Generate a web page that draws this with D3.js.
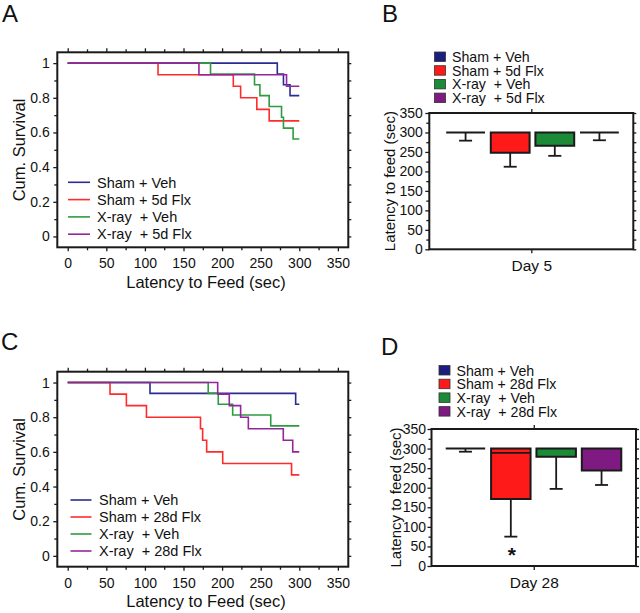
<!DOCTYPE html>
<html><head><meta charset="utf-8">
<script src="https://cdn.jsdelivr.net/npm/d3@7"></script>
<style>
body{margin:0;background:#fff;}
svg{display:block;font-family:"Liberation Sans",Arial,sans-serif;}
text{white-space:pre;}
</style></head><body>
<svg id="c" width="640" height="613"></svg>
<script>
// ---------- DATA ----------
const kmGroupsA = ["Sham + Veh", "Sham + 5d Flx", "X-ray  + Veh", "X-ray  + 5d Flx"];
const kmGroupsC = ["Sham + Veh", "Sham + 28d Flx", "X-ray  + Veh", "X-ray  + 28d Flx"];
const kmXTicks = [0, 50, 100, 150, 200, 250, 300, 350];
const kmYTicks = [0, 0.2, 0.4, 0.6, 0.8, 1];

// Panel A (Kaplan-Meier, step times in sec / cumulative survival)
const A_shamVeh_t = [0, 271.5, 279.5, 288, 300];
const A_shamVeh_s = [1, 0.9375, 0.875, 0.8125, 0.8125];
const A_shamFlx_t = [0, 117, 214.5, 224, 245, 261, 300];
const A_shamFlx_s = [1, 0.933, 0.867, 0.8, 0.733, 0.667, 0.667];
const A_xrayVeh_t = [0, 185, 242, 249, 261, 277, 279.5, 292, 300];
const A_xrayVeh_s = [1, 0.9375, 0.875, 0.8125, 0.75, 0.6875, 0.625, 0.5625, 0.5625];
const A_xrayFlx_t = [0, 170, 283.5, 300];
const A_xrayFlx_s = [1, 0.933, 0.867, 0.867];

// Panel C
const C_shamVeh_t = [0, 106.6, 295.3, 300];
const C_shamVeh_s = [1, 0.9375, 0.875, 0.875];
const C_shamFlx_t = [0, 54.8, 76, 102, 172, 174.8, 180, 200.8, 290, 300];
const C_shamFlx_s = [1, 0.933, 0.867, 0.8, 0.733, 0.667, 0.6, 0.533, 0.467, 0.467];
const C_xrayVeh_t = [0, 182, 195, 213.7, 263, 300];
const C_xrayVeh_s = [1, 0.9375, 0.875, 0.8125, 0.75, 0.75];
const C_xrayFlx_t = [0, 194.3, 209.3, 224, 234, 279.3, 291.5, 300];
const C_xrayFlx_s = [1, 0.933, 0.867, 0.8, 0.733, 0.667, 0.6, 0.6];

// Panels B and D (latency to feed, sec)
const barYTicks = [0, 50, 100, 150, 200, 250, 300, 350];
const barCeiling = 300;
const barMeansB = [300, 248, 266, 300];
const barErrB = [21, 36, 26, 20];
const barMeansD = [300, 171, 279, 244];
const barErrD = [8, 96, 82, 37];
const barInnerD = [null, 289, null, null];
const barSigD = ["", "*", "", ""];
const barLabelB = "Day 5";
const barLabelD = "Day 28";

// ---------- STYLE ----------
const lineColors = ["#2b2b94", "#ff2b2b", "#2f9b3f", "#93269c"];
const barColors = ["#1d1d80", "#ff1a1a", "#1b8b37", "#7e1a82"];
const ink = "#1a1a1a";

const svg = d3.select("#c");
svg.append("rect").attr("width", 640).attr("height", 613).attr("fill", "#fff");

function panelLetter(t, x, y) {
  svg.append("text").attr("x", x).attr("y", y).attr("font-size", 24).attr("fill", "#111").text(t);
}
panelLetter("A", 2, 22);
panelLetter("B", 382, 22);
panelLetter("C", 1, 350);
panelLetter("D", 381, 355);

function styleAxis(g, fs) {
  g.select(".domain").remove();
  g.selectAll(".tick line").attr("stroke", ink).attr("stroke-width", 1.3);
  g.selectAll(".tick text").attr("font-size", fs).attr("fill", "#111").attr("font-family", '"Liberation Sans",Arial,sans-serif');
}

function kmPanel(dy, ts, ss, labels, leg) {
  const L = 57.3, R = 348.3, T = 52.3 + dy, B = 247.3 + dy;
  const x = d3.scaleLinear().domain([-13.5, 363.5]).range([L, R]);
  const y = d3.scaleLinear().domain([-0.0625, 1.0625]).range([B, T]);
  const g = svg.append("g");
  const minorX = d3.range(25, 350, 50);
  const minorY = [0.1, 0.3, 0.5, 0.7, 0.9];
  const allY = d3.range(0, 11).map(i => i / 10);

  let a = g.append("g").attr("transform", `translate(0,${B})`)
    .call(d3.axisBottom(x).tickValues(kmXTicks).tickSize(4).tickPadding(7));
  styleAxis(a, 14);
  a = g.append("g").attr("transform", `translate(0,${B})`)
    .call(d3.axisBottom(x).tickValues(minorX).tickSize(3).tickFormat(""));
  styleAxis(a, 14);
  a = g.append("g").attr("transform", `translate(0,${T})`)
    .call(d3.axisTop(x).tickValues(kmXTicks).tickSize(4).tickFormat(""));
  styleAxis(a, 14);
  a = g.append("g").attr("transform", `translate(0,${T})`)
    .call(d3.axisTop(x).tickValues(minorX).tickSize(3).tickFormat(""));
  styleAxis(a, 14);
  a = g.append("g").attr("transform", `translate(${L},0)`)
    .call(d3.axisLeft(y).tickValues(kmYTicks).tickSize(4).tickPadding(3.5)
      .tickFormat(d => (d === 0 || d === 1) ? String(d) : d.toFixed(1)));
  styleAxis(a, 14);
  a = g.append("g").attr("transform", `translate(${L},0)`)
    .call(d3.axisLeft(y).tickValues(minorY).tickSize(3).tickFormat(""));
  styleAxis(a, 14);
  a = g.append("g").attr("transform", `translate(${R},0)`)
    .call(d3.axisRight(y).tickValues(allY).tickSize(3).tickFormat(""));
  styleAxis(a, 14);

  g.append("rect").attr("x", L).attr("y", T).attr("width", R - L).attr("height", B - T)
    .attr("fill", "none").attr("stroke", ink).attr("stroke-width", 2);

  const line = d3.line().x(d => x(d[0])).y(d => y(d[1])).curve(d3.curveStepAfter);
  ts.forEach((t, i) => {
    const pts = t.map((v, j) => [v, ss[i][j]]);
    g.append("path").attr("d", line(pts)).attr("fill", "none")
      .attr("stroke", lineColors[i]).attr("stroke-width", 1.6);
  });

  labels.forEach((lab, i) => {
    const yy = leg.y0 + dy + i * leg.dy;
    g.append("line").attr("x1", leg.x1).attr("x2", leg.x2).attr("y1", yy).attr("y2", yy)
      .attr("stroke", lineColors[i]).attr("stroke-width", 1.6);
    g.append("text").attr("x", leg.tx).attr("y", yy + 5.2).attr("font-size", 14.5)
      .attr("fill", "#111").text(lab);
  });

  g.append("text").attr("x", 206).attr("y", 287.7 + dy).attr("text-anchor", "middle")
    .attr("font-size", 16.5).attr("fill", "#111").text("Latency to Feed (sec)");
  g.append("text").attr("transform", `translate(25,${150 + dy}) rotate(-90)`)
    .attr("text-anchor", "middle").attr("font-size", 16.5).attr("fill", "#111").text("Cum. Survival");
}

kmPanel(0, [A_shamVeh_t, A_shamFlx_t, A_xrayVeh_t, A_xrayFlx_t],
  [A_shamVeh_s, A_shamFlx_s, A_xrayVeh_s, A_xrayFlx_s], kmGroupsA,
  { x1: 68, x2: 90, tx: 97, y0: 182.3, dy: 17.3 });
kmPanel(319.4, [C_shamVeh_t, C_shamFlx_t, C_xrayVeh_t, C_xrayFlx_t],
  [C_shamVeh_s, C_shamFlx_s, C_xrayVeh_s, C_xrayFlx_s], kmGroupsC,
  { x1: 70.5, x2: 91.5, tx: 99, y0: 180.6, dy: 17 });

function barPanel(c) {
  const g = svg.append("g");
  const y = d3.scaleLinear().domain([0, 350]).range([c.B, c.T]);
  const xb = d3.scaleBand().domain(c.groups).range(c.band).paddingInner(0.13).paddingOuter(0.06);
  const xc = d3.scalePoint().domain([c.label]).range([c.L, c.R]).padding(0.5);
  const minorY = d3.range(25, 350, 50);
  const allY = d3.range(0, 351, 25);

  let a = g.append("g").attr("transform", `translate(${c.L},0)`)
    .call(d3.axisLeft(y).tickValues(barYTicks).tickSize(4).tickPadding(c.pad));
  styleAxis(a, 14);
  a = g.append("g").attr("transform", `translate(${c.L},0)`)
    .call(d3.axisLeft(y).tickValues(minorY).tickSize(3).tickFormat(""));
  styleAxis(a, 14);
  a = g.append("g").attr("transform", `translate(${c.R},0)`)
    .call(d3.axisRight(y).tickValues(allY).tickSize(3).tickFormat(""));
  styleAxis(a, 14);
  a = g.append("g").attr("transform", `translate(0,${c.B})`)
    .call(d3.axisBottom(xc).tickSize(4).tickPadding(7));
  styleAxis(a, 15.5);
  a = g.append("g").attr("transform", `translate(0,${c.T})`)
    .call(d3.axisTop(xc).tickSize(4).tickFormat(""));
  styleAxis(a, 14);

  g.append("rect").attr("x", c.L).attr("y", c.T).attr("width", c.R - c.L).attr("height", c.B - c.T)
    .attr("fill", "none").attr("stroke", ink).attr("stroke-width", 2);

  c.groups.forEach((grp, i) => {
    const x0 = xb(grp), x1 = x0 + xb.bandwidth(), xm = x0 + xb.bandwidth() / 2;
    const yTop = y(barCeiling), yM = y(c.means[i]), yE = y(c.means[i] - c.errs[i]);
    g.append("line").attr("x1", xm).attr("x2", xm).attr("y1", yM).attr("y2", yE)
      .attr("stroke", ink).attr("stroke-width", 1.8);
    g.append("line").attr("x1", xm - 6.5).attr("x2", xm + 6.5).attr("y1", yE).attr("y2", yE)
      .attr("stroke", ink).attr("stroke-width", 1.8);
    g.append("path").attr("d", `M${x0},${yTop}H${x1}V${yM}H${x0}Z`)
      .attr("fill", barColors[i]).attr("stroke", ink).attr("stroke-width", 2);
    if (c.inner && c.inner[i] != null) {
      g.append("line").attr("x1", x0).attr("x2", x1).attr("y1", y(c.inner[i])).attr("y2", y(c.inner[i]))
        .attr("stroke", ink).attr("stroke-width", 1.8);
    }
    if (c.sig && c.sig[i]) {
      g.append("text").attr("x", xm + 1).attr("y", y(c.means[i] - c.errs[i]) + 25)
        .attr("text-anchor", "middle").attr("font-size", 21).attr("font-weight", "bold")
        .attr("fill", "#111").text(c.sig[i]);
    }
  });

  c.groups.forEach((grp, i) => {
    const yy = c.leg.y0 + i * c.leg.dy;
    g.append("rect").attr("x", c.leg.x).attr("y", yy - 9.5).attr("width", 11).attr("height", 9.5)
      .attr("fill", barColors[i]).attr("stroke", "#333").attr("stroke-width", 0.8);
    g.append("text").attr("x", c.leg.tx).attr("y", yy + 0.5).attr("font-size", 14.2)
      .attr("fill", "#111").text(grp);
  });

  g.append("text").attr("transform", `translate(${c.titleX},${(c.T + c.B) / 2}) rotate(-90)`)
    .attr("text-anchor", "middle").attr("font-size", 15).attr("fill", "#111").text("Latency to feed (sec)");
}

barPanel({
  L: 429.3, R: 633.3, T: 113, B: 249.3, band: [443.5, 621.5], pad: 2.5,
  groups: kmGroupsA, means: barMeansB, errs: barErrB, label: barLabelB,
  leg: { x: 434.5, tx: 452, y0: 61.5, dy: 13.7 }, titleX: 395
});
barPanel({
  L: 431.5, R: 636, T: 429, B: 566, band: [443, 624], pad: 1.5,
  groups: kmGroupsC, means: barMeansD, errs: barErrD, label: barLabelD, inner: barInnerD, sig: barSigD,
  leg: { x: 439, tx: 456.5, y0: 375, dy: 13.7 }, titleX: 401
});
</script>
</body></html>
